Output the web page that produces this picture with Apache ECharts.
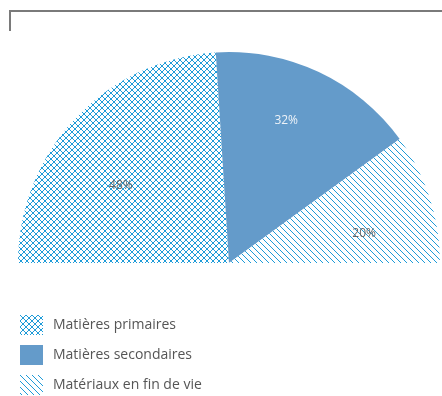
<!DOCTYPE html>
<html>
<head>
<meta charset="utf-8">
<script src="https://cdn.jsdelivr.net/npm/echarts@6/dist/echarts.min.js"></script>
<style>
  html, body { margin: 0; padding: 0; background: #fff; }
  #chart { width: 442px; height: 396px; }
</style>
</head>
<body>
<div id="chart"></div>
<script>
// Share of each material source (percent)
const categories = ['Matières primaires', 'Matières secondaires', 'Matériaux en fin de vie'];
const values = [48, 32, 20];
const labelColors = ['#666666', '#eef3f8', '#666666'];

const HATCH_BLUE = '#1e9bd8';
const SOLID_BLUE = '#649bca';

// Diagonal-line tile; both directions gives a cross-hatch
function hatchTile(cross) {
  const s = 6;
  const c = document.createElement('canvas');
  c.width = s; c.height = s;
  const g = c.getContext('2d');
  g.fillStyle = '#ffffff';
  g.fillRect(0, 0, s, s);
  g.strokeStyle = HATCH_BLUE;
  g.lineWidth = 1;
  g.beginPath();
  g.moveTo(-1, -1); g.lineTo(s + 1, s + 1);
  if (cross) { g.moveTo(-1, s + 1); g.lineTo(s + 1, -1); }
  g.stroke();
  return { image: c, repeat: 'repeat' };
}

const fills = [hatchTile(true), SOLID_BLUE, hatchTile(false)];
const labelOffsets = [[-29, -3], [11, -44], [32, 4]];

const chart = echarts.init(document.getElementById('chart'), null, { renderer: 'canvas' });

chart.setOption({
  animation: false,
  legend: {
    orient: 'vertical',
    left: 20,
    top: 315,
    height: 81,
    padding: 0,
    itemWidth: 23,
    itemHeight: 20,
    itemGap: 10,
    icon: 'rect',
    textStyle: { fontFamily: 'Open Sans', fontSize: 14, color: '#555555', padding: [0, 0, 0, 5] },
    data: categories
  },
  graphic: [{
    type: 'polyline',
    shape: { points: [[10, 31], [10, 11], [442, 11]] },
    style: { stroke: '#7a7a7a', lineWidth: 2, fill: null }
  }],
  series: [{
    type: 'pie',
    center: [229, 263],
    radius: [0, 211],
    startAngle: 180,
    endAngle: 0,
    clockwise: true,
    silent: true,
    itemStyle: { borderWidth: 0 },
    label: {
      show: true,
      position: 'inside',
      fontFamily: 'Open Sans',
      fontSize: 12,
      formatter: '{c}%'
    },
    labelLine: { show: false },
    data: categories.map((name, i) => ({
      name,
      value: values[i],
      itemStyle: { color: fills[i] },
      label: { color: labelColors[i], offset: labelOffsets[i] }
    }))
  }]
});
</script>
</body>
</html>
